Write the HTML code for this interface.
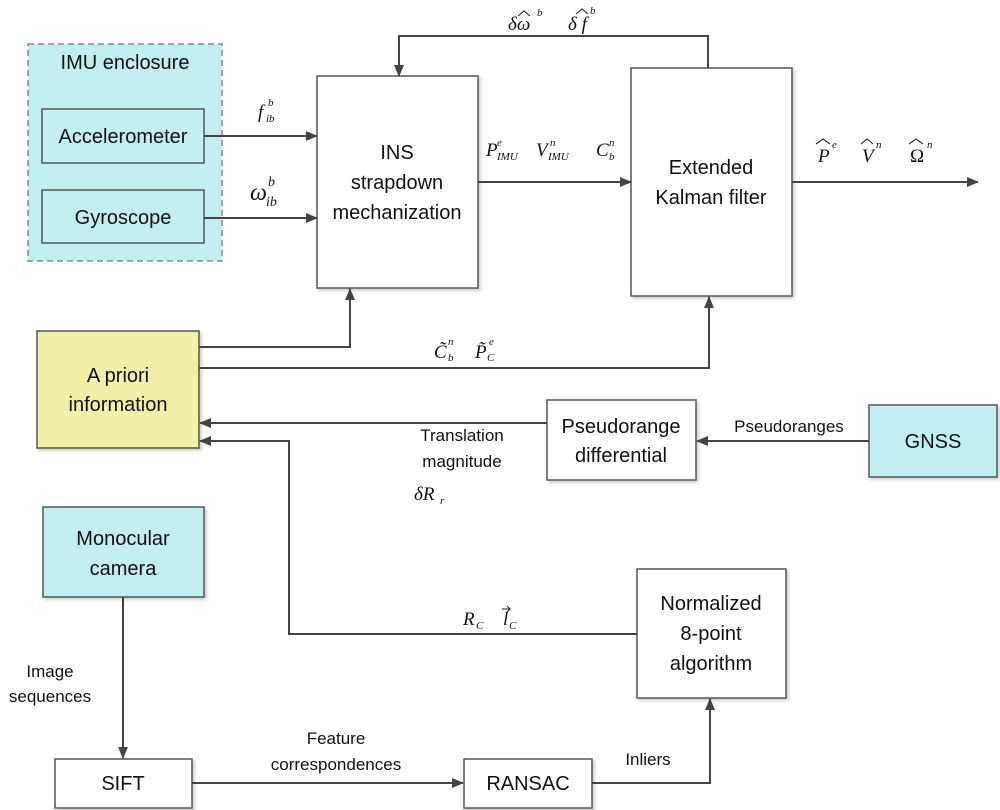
<!DOCTYPE html>
<html><head><meta charset="utf-8"><style>
body{margin:0;background:#fff}
svg{display:block}
.t{font-family:"Liberation Sans",sans-serif;font-size:20px;fill:#111}
.s{font-family:"Liberation Sans",sans-serif;font-size:17px;fill:#111}
.m{font-family:"Liberation Serif",serif;font-style:italic;font-size:19px;fill:#111}
.sub{font-family:"Liberation Serif",serif;font-style:italic;font-size:11px;fill:#111}
.b{fill:#fff;stroke:#555;stroke-width:1.5}
.c{fill:#c3eef0;stroke:#555;stroke-width:1.5}
.l{stroke:#444;stroke-width:2;fill:none}
.h{stroke:#222;stroke-width:1.1;fill:none}
</style></head><body>
<svg width="1000" height="810" viewBox="0 0 1000 810">
<defs><marker id="a" markerWidth="12" markerHeight="10" refX="11" refY="5" orient="auto" markerUnits="userSpaceOnUse"><path d="M0,0 L12,5 L0,10 Z" fill="#444"/></marker>
<filter id="sh"><feDropShadow dx="2" dy="2" stdDeviation="1.5" flood-color="#000" flood-opacity="0.2"/></filter></defs>

<rect x="28" y="44" width="194" height="217" fill="#c3eef0" stroke="#888" stroke-width="1.5" stroke-dasharray="6,4"/>
<text class="t" x="125" y="69" text-anchor="middle">IMU enclosure</text>
<rect class="c" x="42" y="109" width="162" height="54"/>
<text class="t" x="123" y="143" text-anchor="middle">Accelerometer</text>
<rect class="c" x="42" y="190" width="162" height="53"/>
<text class="t" x="123" y="224" text-anchor="middle">Gyroscope</text>

<rect class="b" x="317" y="76" width="161" height="212" filter="url(#sh)"/>
<text class="t" x="397" y="159" text-anchor="middle">INS</text>
<text class="t" x="397" y="189" text-anchor="middle">strapdown</text>
<text class="t" x="397" y="219" text-anchor="middle">mechanization</text>

<rect class="b" x="631" y="68" width="161" height="228" filter="url(#sh)"/>
<text class="t" x="711" y="174" text-anchor="middle">Extended</text>
<text class="t" x="711" y="204" text-anchor="middle">Kalman filter</text>

<line class="l" x1="204" y1="136" x2="317" y2="136" marker-end="url(#a)"/>
<line class="l" x1="204" y1="218" x2="317" y2="218" marker-end="url(#a)"/>
<path class="l" d="M708,68 V36 H399 V76" marker-end="url(#a)"/>
<line class="l" x1="478" y1="182" x2="631" y2="182" marker-end="url(#a)"/>
<line class="l" x1="792" y1="182" x2="978" y2="182" marker-end="url(#a)"/>

<text class="m" x="258" y="118">f</text><text class="sub" x="266" y="122">ib</text><text class="sub" x="268" y="106">b</text>
<text class="m" x="250" y="200" style="font-size:24px">ω</text><text class="sub" x="266" y="206" style="font-size:14px">ib</text><text class="sub" x="268" y="186" style="font-size:14px">b</text>

<text class="m" x="508" y="30">δω</text><path class="h" d="M518,16 L524,11 L530,16"/><text class="sub" x="537" y="16">b</text>
<text class="m" x="568" y="30">δ f</text><path class="h" d="M576,14 L582,9 L588,14"/><text class="sub" x="590" y="14">b</text>

<text class="m" x="486" y="156">P</text><text class="sub" x="497" y="160">IMU</text><text class="sub" x="497" y="146">e</text>
<text class="m" x="536" y="156">V</text><text class="sub" x="548" y="160">IMU</text><text class="sub" x="550" y="146">n</text>
<text class="m" x="596" y="156">C</text><text class="sub" x="609" y="160">b</text><text class="sub" x="609" y="146">n</text>

<text class="m" x="818" y="162">P</text><path class="h" d="M816,144 L823,139 L830,144"/><text class="sub" x="832" y="148">e</text>
<text class="m" x="862" y="162">V</text><path class="h" d="M861,144 L867,139 L873,144"/><text class="sub" x="876" y="148">n</text>
<text class="m" x="910" y="162" style="font-style:normal">Ω</text><path class="h" d="M909,144 L916,139 L923,144"/><text class="sub" x="927" y="148">n</text>

<rect x="37" y="331" width="162" height="117" fill="#f0f0a8" stroke="#555" stroke-width="1.5" filter="url(#sh)"/>
<text class="t" x="118" y="382" text-anchor="middle">A priori</text>
<text class="t" x="118" y="411" text-anchor="middle">information</text>
<path class="l" d="M199,347 H350 V289" marker-end="url(#a)"/>
<path class="l" d="M199,368 H709 V297" marker-end="url(#a)"/>
<text class="m" x="434" y="358">C̃</text><text class="sub" x="448" y="361">b</text><text class="sub" x="448" y="345">n</text>
<text class="m" x="475" y="358">P̃</text><text class="sub" x="487" y="361">C</text><text class="sub" x="489" y="345">e</text>

<rect class="b" x="547" y="400" width="149" height="80" filter="url(#sh)"/>
<text class="t" x="621" y="433" text-anchor="middle">Pseudorange</text>
<text class="t" x="621" y="462" text-anchor="middle">differential</text>
<rect class="c" x="869" y="405" width="128" height="72" filter="url(#sh)"/>
<text class="t" x="933" y="448" text-anchor="middle">GNSS</text>
<line class="l" x1="869" y1="441" x2="697" y2="441" marker-end="url(#a)"/>
<text class="s" x="789" y="432" text-anchor="middle">Pseudoranges</text>
<line class="l" x1="547" y1="423" x2="200" y2="423" marker-end="url(#a)"/>
<text class="s" x="462" y="441" text-anchor="middle">Translation</text>
<text class="s" x="462" y="467" text-anchor="middle">magnitude</text>
<text class="m" x="414" y="500">δR</text><text class="sub" x="440" y="504">r</text>

<rect class="c" x="43" y="507" width="161" height="90" filter="url(#sh)"/>
<text class="t" x="123" y="545" text-anchor="middle">Monocular</text>
<text class="t" x="123" y="575" text-anchor="middle">camera</text>
<line class="l" x1="123" y1="597" x2="123" y2="758" marker-end="url(#a)"/>
<text class="s" x="50" y="677" text-anchor="middle">Image</text>
<text class="s" x="50" y="702" text-anchor="middle">sequences</text>

<rect class="b" x="55" y="759" width="137" height="49" filter="url(#sh)"/>
<text class="t" x="123" y="790" text-anchor="middle">SIFT</text>
<rect class="b" x="464" y="759" width="128" height="49" filter="url(#sh)"/>
<text class="t" x="528" y="790" text-anchor="middle">RANSAC</text>
<line class="l" x1="192" y1="783" x2="463" y2="783" marker-end="url(#a)"/>
<text class="s" x="336" y="744" text-anchor="middle">Feature</text>
<text class="s" x="336" y="770" text-anchor="middle">correspondences</text>
<path class="l" d="M592,783 H710 V699" marker-end="url(#a)"/>
<text class="s" x="648" y="765" text-anchor="middle">Inliers</text>

<rect class="b" x="637" y="569" width="149" height="129" filter="url(#sh)"/>
<text class="t" x="711" y="610" text-anchor="middle">Normalized</text>
<text class="t" x="711" y="640" text-anchor="middle">8-point</text>
<text class="t" x="711" y="670" text-anchor="middle">algorithm</text>
<path class="l" d="M637,634 H289 V441 H200" marker-end="url(#a)"/>
<text class="m" x="463" y="625">R</text><text class="sub" x="476" y="629">C</text>
<text class="m" x="503" y="625">l</text><path class="h" d="M502,609 L510,609 M507,606 L510,609 L507,612"/><text class="sub" x="509" y="629">C</text>
</svg>
</body></html>
